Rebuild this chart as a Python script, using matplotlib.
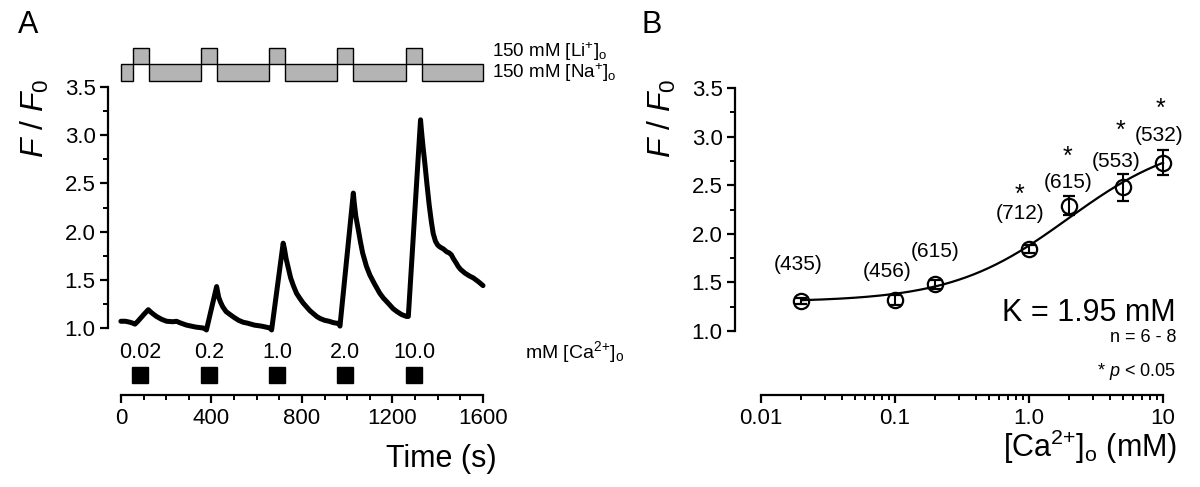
import numpy as np
import matplotlib
matplotlib.use('Agg')
import matplotlib.pyplot as plt
from matplotlib.patches import Rectangle
from matplotlib.ticker import MultipleLocator, FixedLocator, FixedFormatter, NullFormatter

plt.rcParams['font.family'] = 'Liberation Sans'
plt.rcParams['mathtext.fontset'] = 'custom'
plt.rcParams['mathtext.rm'] = 'Liberation Sans'
plt.rcParams['mathtext.it'] = 'Liberation Sans:italic'
plt.rcParams['font.size'] = 15

# ---- panel A: fluorescence trace ----
time_s = [0, 20, 40, 53, 62, 75, 90, 105, 121, 130, 140, 157, 180, 202, 230, 246, 260, 290, 330, 364, 372, 378,
          423, 427, 432, 440, 450, 465, 482, 500, 520, 540, 560, 590, 620, 640, 658, 666,
          717, 722, 730, 740, 750, 762, 776, 790, 805, 820, 835, 850, 865, 879, 900, 920, 940, 953, 962, 968,
          1027, 1031, 1038, 1049, 1058, 1068, 1085, 1100, 1120, 1144, 1160, 1180, 1203, 1220, 1240, 1262, 1270,
          1324, 1328, 1335, 1343, 1352, 1362, 1372, 1380, 1390, 1400, 1410, 1425, 1440, 1450, 1460, 1469,
          1480, 1490, 1500, 1520, 1540, 1557, 1580, 1600]
ratio = [1.07, 1.07, 1.06, 1.05, 1.04, 1.07, 1.11, 1.15, 1.19, 1.17, 1.15, 1.12, 1.09, 1.07, 1.065, 1.07, 1.055,
         1.03, 1.01, 1.00, 0.99, 0.98,
         1.43, 1.38, 1.32, 1.27, 1.22, 1.17, 1.14, 1.11, 1.08, 1.06, 1.05, 1.03, 1.02, 1.01, 1.00, 0.98,
         1.88, 1.83, 1.72, 1.62, 1.52, 1.44, 1.36, 1.31, 1.26, 1.22, 1.18, 1.15, 1.12, 1.10, 1.08, 1.07, 1.055,
         1.05, 1.05, 1.02,
         2.40, 2.30, 2.16, 2.02, 1.90, 1.78, 1.64, 1.55, 1.46, 1.36, 1.31, 1.26, 1.20, 1.17, 1.14, 1.12, 1.12,
         3.16, 3.05, 2.88, 2.71, 2.50, 2.28, 2.10, 1.98, 1.90, 1.86, 1.84, 1.82, 1.79, 1.78, 1.76, 1.72,
         1.68, 1.64, 1.61, 1.57, 1.54, 1.52, 1.48, 1.44]

li_on = [52, 353, 653, 956, 1258]
li_off = [122, 424, 724, 1027, 1332]
ca_time = [84, 389, 690, 991, 1296]
ca_labels = ['0.02', '0.2', '1.0', '2.0', '10.0']

# ---- panel B: dose response ----
ca_conc = [0.02, 0.1, 0.2, 1.0, 2.0, 5.0, 10.0]
ff0_mean = [1.31, 1.32, 1.48, 1.84, 2.29, 2.48, 2.73]
ff0_err = [0.03, 0.05, 0.05, 0.04, 0.10, 0.14, 0.13]
n_cells = ['(435)', '(456)', '(615)', '(712)', '(615)', '(553)', '(532)']
label_x = [0.019, 0.087, 0.2, 0.85, 1.95, 4.5, 9.3]
label_y = [1.68, 1.61, 1.82, 2.21, 2.53, 2.74, 3.01]
star_x = [0.85, 1.95, 4.8, 9.6]
star_y = [2.46, 2.85, 3.12, 3.34]

# Hill fit shown on the chart
fit_K = 1.95
fit_min = 1.30
fit_amp = 1.71
fit_n = 1.0

ion_sup = r'$^{2{+}}$'


def main():
    fig = plt.figure(figsize=(12, 4.87), dpi=100)

    # panel A
    ax = fig.add_axes([0.09, 0.1889, 0.3125, 0.6324])
    ax.plot(time_s, ratio, '-k', lw=3.6, solid_joinstyle='round', solid_capstyle='round', clip_on=False)
    ax.set_xlim(-57, 1600)
    ax.set_ylim(0.305, 3.5)
    for s in ['top', 'right']:
        ax.spines[s].set_visible(False)
    for s in ['left', 'bottom']:
        ax.spines[s].set_linewidth(1.6)
    ax.spines['left'].set_bounds(1.0, 3.5)
    ax.spines['bottom'].set_bounds(0, 1600)
    ax.set_yticks([1.0, 1.5, 2.0, 2.5, 3.0, 3.5])
    ax.yaxis.set_minor_locator(FixedLocator(np.arange(1.25, 3.5, 0.5)))
    ax.set_xticks([0, 400, 800, 1200, 1600])
    ax.xaxis.set_minor_locator(MultipleLocator(100))
    ax.tick_params(which='major', direction='out', length=6, width=1.6, labelsize=16, pad=3)
    ax.tick_params(which='minor', direction='out', length=3.5, width=1.4)

    # solution bars on top
    na_edges = [0] + li_off
    na_ends = li_on + [1600]
    for a, b in zip(na_edges, na_ends):
        ax.add_patch(Rectangle((a, 3.56), b - a, 0.18, facecolor='#b4b4b4', edgecolor='k',
                               lw=1.0, clip_on=False))
    for a, b in zip(li_on, li_off):
        ax.add_patch(Rectangle((a, 3.74), b - a, 0.165, facecolor='#b4b4b4', edgecolor='k',
                               lw=1.0, clip_on=False))
    ax.text(1640, 3.81, r'150 mM [Li$^{+}$]$_{\rm o}$', fontsize=13.5, va='baseline', clip_on=False)
    ax.text(1640, 3.59, r'150 mM [Na$^{+}$]$_{\rm o}$', fontsize=13.5, va='baseline', clip_on=False)

    # calcium applications
    ax.plot(ca_time, [0.51] * len(ca_time), 's', color='k', ms=12, clip_on=False)
    for t, lab in zip(ca_time, ca_labels):
        ax.text(t, 0.75, lab, ha='center', va='center', fontsize=15.5)
    ax.text(1785, 0.75, 'mM [Ca' + ion_sup + r']$_{\rm o}$', ha='left', va='center', fontsize=14,
            clip_on=False)

    # panel B
    bx = fig.add_axes([0.6125, 0.1889, 0.3567, 0.6304])
    xx = np.logspace(np.log10(0.02), 1, 200)
    bx.plot(xx, fit_min + fit_amp * xx**fit_n / (fit_K**fit_n + xx**fit_n), '-k', lw=1.6, clip_on=False)
    eb = bx.errorbar(ca_conc, ff0_mean, yerr=ff0_err, fmt='o', ms=11, mfc='none', mec='k', mew=1.6,
                     ecolor='k', elinewidth=1.5, capsize=4, capthick=1.5)
    for art in eb.lines[0:1] + tuple(eb.lines[1]) + tuple(eb.lines[2]):
        art.set_clip_on(False)
    bx.set_xscale('log')
    bx.set_xlim(10**-2.194, 10)
    bx.set_ylim(0.342, 3.5)
    for s in ['top', 'right']:
        bx.spines[s].set_visible(False)
    for s in ['left', 'bottom']:
        bx.spines[s].set_linewidth(1.6)
    bx.spines['left'].set_bounds(1.0, 3.5)
    bx.spines['bottom'].set_bounds(0.01, 10)
    bx.set_yticks([1.0, 1.5, 2.0, 2.5, 3.0, 3.5])
    bx.yaxis.set_minor_locator(FixedLocator(np.arange(1.25, 3.5, 0.5)))
    bx.xaxis.set_major_locator(FixedLocator([0.01, 0.1, 1.0, 10]))
    bx.xaxis.set_major_formatter(FixedFormatter(['0.01', '0.1', '1.0', '10']))
    minors = [k * 10.0**e for e in (-2, -1, 0) for k in range(2, 10)]
    bx.xaxis.set_minor_locator(FixedLocator(minors))
    bx.xaxis.set_minor_formatter(NullFormatter())
    bx.tick_params(which='major', direction='out', length=6, width=1.6, labelsize=16, pad=3)
    bx.tick_params(which='minor', direction='out', length=3.5, width=1.4)

    for x, y, lab in zip(label_x, label_y, n_cells):
        bx.text(x, y, lab, ha='center', va='center', fontsize=15)
    for x, y in zip(star_x, star_y):
        bx.text(x, y - 0.13, '*', ha='center', va='baseline', fontsize=18, clip_on=False)
    bx.text(12.5, 1.19, 'K = 1.95 mM', ha='right', va='center', fontsize=22, clip_on=False)
    bx.text(12.5, 0.93, 'n = 6 - 8', ha='right', va='center', fontsize=13, clip_on=False)
    bx.text(12.5, 0.58, r'* $p$ < 0.05', ha='right', va='center', fontsize=13, clip_on=False)

    # labels
    fig.text(35 / 1200, 1 - 118 / 487, r'$F$ / $F_0$', rotation=90, ha='center', va='center', fontsize=23)
    fig.text(662 / 1200, 1 - 118 / 487, r'$F$ / $F_0$', rotation=90, ha='center', va='center', fontsize=23)
    fig.text(441 / 1200, 1 - 467 / 487, 'Time (s)', ha='center', va='baseline', fontsize=22)
    fig.text(1090 / 1200, 1 - 457 / 487, '[Ca' + ion_sup + r']$_{\rm o}$ (mM)', ha='center', va='baseline',
             fontsize=22)
    fig.text(18 / 1200, 1 - 33 / 487, 'A', ha='left', va='baseline', fontsize=22)
    fig.text(642 / 1200, 1 - 33 / 487, 'B', ha='left', va='baseline', fontsize=22)

    fig.savefig('out.png', dpi=100)


if __name__ == '__main__':
    main()
